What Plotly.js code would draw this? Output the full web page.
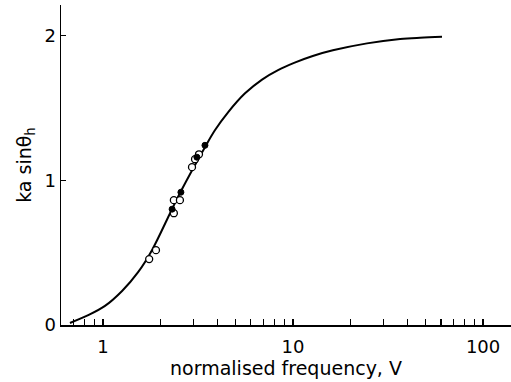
<!DOCTYPE html>
<html>
<head>
<meta charset="utf-8">
<script src="https://cdn.plot.ly/plotly-3.0.1.min.js"></script>
<style>html,body{margin:0;padding:0;background:#fff;}#chart{width:511px;height:382px;}</style>
</head>
<body>
<div id="chart"></div>
<script>
// theory curve
var curveV = [0.67, 0.83, 1.02, 1.26, 1.53, 1.81, 2.28, 2.57, 3.44, 3.88, 4.55, 5.59, 6.87, 8.34, 10.2, 12.7, 16.2, 24.5, 36.6, 46.6, 60.8];
var curveY = [0.014, 0.066, 0.13, 0.235, 0.365, 0.517, 0.786, 0.924, 1.228, 1.345, 1.469, 1.60, 1.695, 1.76, 1.812, 1.858, 1.897, 1.945, 1.975, 1.984, 1.99];
// measured points, open circles
var openV = [1.75, 1.90, 2.36, 2.36, 2.54, 2.94, 3.05, 3.20];
var openY = [0.455, 0.517, 0.772, 0.862, 0.862, 1.09, 1.145, 1.179];
// measured points, filled circles
var filledV = [2.31, 2.57, 3.12, 3.44];
var filledY = [0.80, 0.917, 1.159, 1.241];
// ticks
var xTickVals = [1, 10, 100];
var xTickText = ['1', '10', '100'];
var xMinorVals = [0.7, 0.8, 0.9, 2, 3, 4, 5, 6, 7, 8, 9, 20, 30, 40, 50, 60, 70, 80, 90];
var yTickVals = [0, 1, 2];
var yTickText = ['0', '1', '2'];

var traces = [
  {x: curveV, y: curveY, mode: 'lines', line: {color: '#000', width: 2, shape: 'spline', smoothing: 1}, hoverinfo: 'skip'},
  {x: openV, y: openY, mode: 'markers', marker: {symbol: 'circle', size: 7, color: '#fff', line: {color: '#000', width: 1.3}}},
  {x: filledV, y: filledY, mode: 'markers', marker: {symbol: 'circle', size: 6, color: '#000', line: {color: '#000', width: 1}}}
];

var layout = {
  width: 511, height: 382,
  margin: {l: 61, r: 0, t: 5, b: 57},
  paper_bgcolor: '#fff', plot_bgcolor: '#fff',
  showlegend: false,
  font: {family: 'DejaVu Sans, sans-serif', color: '#000', size: 18},
  xaxis: {
    type: 'log', range: [-0.221, 2.147],
    showgrid: false, zeroline: false,
    showline: true, linecolor: '#000', linewidth: 1.5,
    ticks: 'inside', ticklen: 6, tickwidth: 1.3, tickcolor: '#000',
    tickmode: 'array', tickvals: xTickVals, ticktext: xTickText,
    tickfont: {size: 18}, ticklabelstandoff: 5,
    minor: {ticks: 'inside', ticklen: 6, tickwidth: 1.2, tickcolor: '#000', tickmode: 'array', tickvals: xMinorVals, showgrid: false},
    title: {text: 'normalised frequency, V', font: {size: 19}, standoff: 2}
  },
  yaxis: {
    range: [0, 2.21],
    showgrid: false, zeroline: false,
    showline: true, linecolor: '#000', linewidth: 1.5,
    ticks: 'inside', ticklen: 5, tickwidth: 1.3, tickcolor: '#000',
    tickmode: 'array', tickvals: yTickVals, ticktext: yTickText,
    tickfont: {size: 18},
    title: {text: 'ka sinθ<sub>h</sub>', font: {size: 19}, standoff: 8}
  }
};

Plotly.newPlot('chart', traces, layout, {displayModeBar: false, staticPlot: true});
</script>
</body>
</html>
